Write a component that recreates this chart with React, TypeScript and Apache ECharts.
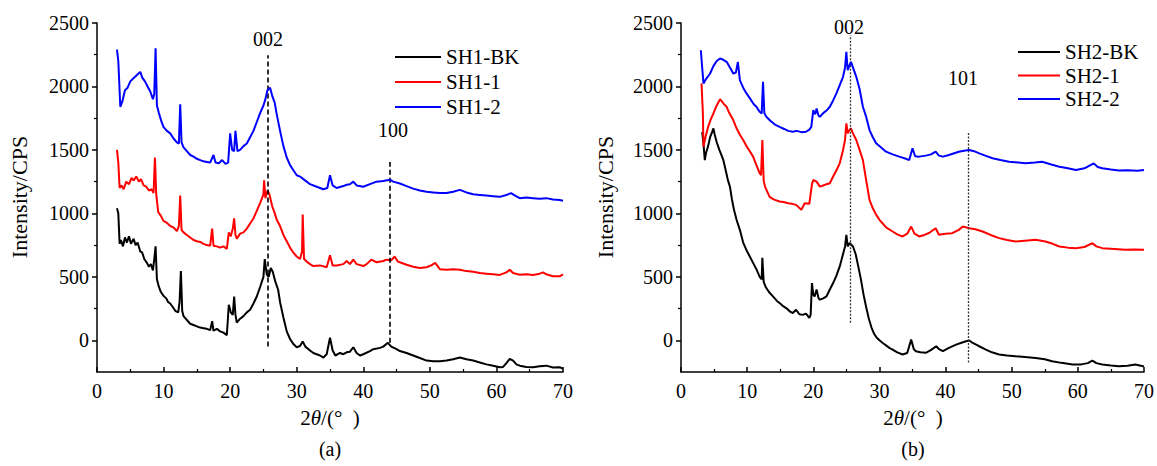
import React, { useEffect, useRef } from "react";
import * as echarts from "echarts";

const FONT = "'Liberation Serif', 'Times New Roman', serif";

const xTicks = [0, 10, 20, 30, 40, 50, 60, 70];
const yMajorTicks = [0, 500, 1000, 1500, 2000, 2500];
const yMinorTicks = [250, 750, 1250, 1750, 2250];

const namesA = ["SH1-BK", "SH1-1", "SH1-2"];
const namesB = ["SH2-BK", "SH2-1", "SH2-2"];
const colors = ["#000000", "#ff0000", "#0000ff"];

const sh1BK: number[][] = [
  [3.0, 1040], [3.2, 1000], [3.4, 760], [3.6, 790], [3.9, 740], [4.2, 810], [4.5, 770], [4.8, 820], [5.1, 760], [5.5, 800],
  [5.8, 750], [6.1, 770], [6.5, 700], [6.8, 690], [7.1, 640], [7.5, 610], [7.8, 580], [8.1, 600], [8.4, 550], [8.6, 640],
  [8.8, 740], [9.0, 480], [9.3, 420], [9.6, 380], [10.0, 350], [10.4, 330], [10.7, 300], [11.0, 290], [11.4, 260], [11.8, 230],
  [12.2, 220], [12.4, 300], [12.6, 545], [12.8, 230], [13.0, 190], [13.5, 160], [14.0, 130], [14.5, 120], [15.0, 110], [15.5, 100],
  [16.0, 95], [16.5, 90], [17.0, 80], [17.3, 150], [17.5, 75], [18.0, 90], [18.5, 70], [19.0, 60], [19.5, 40], [19.8, 280],
  [20.1, 220], [20.4, 200], [20.6, 345], [20.8, 200], [21.0, 140], [21.5, 170], [22.0, 190], [22.5, 220], [23.0, 240], [23.5, 290],
  [24.0, 345], [24.5, 420], [25.0, 500], [25.2, 640], [25.5, 520], [25.8, 500], [26.1, 570], [26.4, 540], [26.8, 460], [27.2, 400],
  [27.5, 300], [28.0, 180], [28.5, 70], [29.0, 10], [29.5, -30], [30.0, -55], [30.5, -45], [30.9, -10], [31.3, -50], [32.0, -80],
  [32.5, -100], [33.0, -110], [33.5, -120], [34.0, -136], [34.5, -110], [35.0, 20], [35.4, -80], [35.8, -120], [36.5, -100], [37.0, -110],
  [37.5, -95], [38.0, -90], [38.5, -55], [39.0, -100], [39.5, -120], [40.0, -110], [41.0, -85], [41.5, -70], [42.5, -60], [43.0, -50],
  [43.7, -20], [44.2, -50], [45.0, -70], [45.5, -85], [46.5, -100], [47.5, -120], [48.5, -140], [49.5, -160], [50.5, -165], [51.5, -165],
  [52.5, -160], [53.5, -150], [54.5, -136], [55.5, -150], [56.5, -160], [57.5, -175], [58.5, -190], [59.5, -200], [60.5, -212], [61.0, -210],
  [61.5, -180], [62.0, -146], [62.5, -160], [63.0, -190], [63.5, -200], [64.5, -210], [65.5, -212], [66.5, -205], [67.5, -200], [68.5, -215],
  [69.5, -212], [70.0, -225],
];

const sh1One: number[][] = [
  [3.0, 1500], [3.2, 1400], [3.4, 1200], [3.7, 1220], [4.0, 1190], [4.4, 1250], [4.8, 1230], [5.2, 1280], [5.5, 1260], [5.9, 1290],
  [6.3, 1250], [6.6, 1270], [7.0, 1220], [7.4, 1210], [7.8, 1180], [8.2, 1190], [8.5, 1160], [8.7, 1440], [8.9, 1150], [9.2, 1010],
  [9.6, 980], [10.0, 940], [10.5, 925], [11.0, 900], [11.5, 890], [12.0, 860], [12.3, 900], [12.5, 1140], [12.7, 870], [13.0, 850],
  [13.5, 830], [14.0, 810], [14.5, 790], [15.0, 780], [15.5, 775], [16.0, 760], [16.5, 750], [17.0, 745], [17.3, 880], [17.5, 745],
  [18.0, 740], [18.5, 730], [19.0, 740], [19.5, 720], [19.8, 850], [20.1, 820], [20.4, 880], [20.6, 960], [20.8, 830], [21.0, 800],
  [21.5, 840], [22.0, 850], [22.5, 880], [23.0, 920], [23.5, 960], [24.0, 1020], [24.5, 1080], [25.0, 1150], [25.1, 1260], [25.3, 1120],
  [25.6, 1180], [25.9, 1150], [26.3, 1060], [26.7, 1000], [27.0, 950], [27.5, 900], [28.0, 830], [28.5, 780], [29.0, 730], [29.5, 690],
  [30.0, 660], [30.5, 640], [30.8, 700], [30.9, 990], [31.1, 640], [31.5, 620], [32.0, 600], [32.5, 585], [33.5, 590], [34.5, 575],
  [35.0, 670], [35.4, 590], [36.0, 590], [37.0, 600], [37.5, 625], [38.0, 600], [38.5, 635], [39.0, 600], [40.0, 585], [40.5, 600],
  [41.2, 635], [42.0, 615], [43.0, 625], [43.5, 635], [44.2, 630], [44.7, 660], [45.2, 620], [46.0, 605], [46.5, 595], [47.5, 580],
  [48.5, 570], [49.5, 575], [50.2, 590], [50.8, 610], [51.5, 560], [52.5, 555], [53.5, 560], [54.5, 556], [55.5, 545], [56.5, 540],
  [57.5, 530], [58.5, 525], [59.5, 520], [60.5, 515], [61.5, 535], [62.0, 556], [62.5, 530], [63.5, 517], [64.5, 520], [65.5, 515],
  [66.5, 525], [67.0, 535], [67.5, 520], [68.5, 505], [69.5, 504], [70.0, 520],
];

const sh1Two: number[][] = [
  [3.0, 2290], [3.2, 2200], [3.5, 1840], [3.8, 1880], [4.2, 1970], [4.6, 1990], [5.0, 2040], [5.4, 2060], [5.8, 2080], [6.2, 2100],
  [6.5, 2115], [6.8, 2070], [7.2, 2040], [7.6, 2000], [8.0, 1960], [8.4, 1900], [8.6, 1940], [8.8, 2300], [9.0, 1850], [9.3, 1790],
  [9.7, 1720], [10.0, 1680], [10.5, 1650], [11.0, 1630], [11.5, 1590], [12.0, 1560], [12.3, 1550], [12.5, 1860], [12.7, 1560], [13.0, 1520],
  [13.5, 1490], [14.0, 1460], [14.5, 1447], [15.0, 1430], [15.5, 1420], [16.0, 1410], [16.5, 1405], [17.0, 1400], [17.5, 1460], [17.8, 1400],
  [18.3, 1395], [18.8, 1420], [19.3, 1390], [19.7, 1400], [20.0, 1630], [20.3, 1500], [20.6, 1490], [20.8, 1650], [21.1, 1490], [21.5, 1500],
  [22.0, 1530], [22.5, 1550], [23.0, 1600], [23.5, 1650], [24.0, 1720], [24.5, 1790], [25.0, 1850], [25.3, 1900], [25.6, 1970], [26.0, 1990],
  [26.3, 1930], [26.7, 1870], [27.0, 1780], [27.5, 1650], [28.0, 1530], [28.5, 1440], [29.0, 1380], [29.5, 1340], [30.0, 1300], [30.5, 1290],
  [31.0, 1270], [31.5, 1250], [32.0, 1230], [33.0, 1210], [34.0, 1190], [34.6, 1200], [35.0, 1300], [35.4, 1220], [36.0, 1200], [37.0, 1215],
  [37.5, 1225], [38.0, 1230], [38.5, 1250], [39.0, 1220], [40.0, 1210], [41.0, 1230], [42.0, 1250], [43.0, 1255], [44.0, 1265], [44.5, 1250],
  [45.5, 1235], [46.5, 1215], [47.5, 1195], [48.5, 1180], [49.5, 1170], [50.5, 1165], [51.5, 1160], [52.5, 1160], [53.5, 1170], [54.5, 1185],
  [55.5, 1165], [56.5, 1150], [57.5, 1145], [58.5, 1140], [59.5, 1135], [60.5, 1130], [61.5, 1145], [62.2, 1160], [62.8, 1140], [63.5, 1120],
  [64.5, 1125], [65.5, 1120], [66.5, 1115], [67.5, 1120], [68.5, 1110], [69.5, 1105], [70.0, 1100],
];

const sh2BK: number[][] = [
  [3.2, 1640], [3.4, 1550], [3.6, 1420], [3.8, 1480], [4.1, 1530], [4.4, 1600], [4.7, 1640], [4.9, 1670], [5.1, 1620], [5.4, 1560],
  [5.8, 1500], [6.1, 1460], [6.4, 1420], [6.8, 1330], [7.1, 1260], [7.4, 1210], [7.7, 1110], [8.0, 1030], [8.4, 950], [8.9, 870],
  [9.4, 770], [9.9, 710], [10.4, 660], [10.9, 610], [11.4, 560], [11.9, 500], [12.2, 480], [12.3, 650], [12.5, 460], [12.8, 420],
  [13.3, 380], [13.9, 346], [14.5, 310], [15.0, 290], [15.5, 267], [16.0, 250], [16.5, 225], [16.9, 215], [17.4, 240], [17.9, 205],
  [18.4, 200], [18.9, 210], [19.4, 176], [19.6, 200], [19.8, 450], [20.0, 360], [20.2, 346], [20.5, 400], [20.8, 330], [21.0, 320],
  [21.5, 330], [22.0, 346], [22.5, 400], [23.0, 451], [23.5, 510], [24.0, 582], [24.5, 680], [24.8, 739], [25.0, 830], [25.2, 740],
  [25.5, 766], [26.0, 739], [26.4, 680], [26.8, 582], [27.2, 480], [27.6, 360], [28.0, 260], [28.4, 170], [28.8, 100], [29.2, 50],
  [29.6, 20], [30.0, 0], [30.5, -21], [31.0, -40], [31.5, -60], [32.0, -73], [32.7, -95], [33.5, -112], [34.2, -100], [34.8, 5],
  [35.2, -70], [35.5, -86], [36.2, -95], [37.0, -99], [37.7, -80], [38.6, -47], [39.0, -70], [39.6, -86], [40.5, -60], [41.6, -34],
  [42.4, -20], [43.1, -8], [43.6, -2], [44.1, -21], [45.0, -45], [46.1, -73], [47.0, -95], [48.1, -112], [49.3, -120], [50.6, -126],
  [52.0, -132], [53.6, -139], [55.0, -150], [56.1, -165], [57.5, -178], [59.2, -191], [60.5, -190], [61.5, -180], [62.2, -160], [62.8, -180],
  [63.7, -191], [65.0, -198], [66.2, -204], [67.5, -200], [68.7, -191], [69.5, -200], [70.0, -207],
];

const sh2One: number[][] = [
  [3.1, 2024], [3.3, 1800], [3.4, 1525], [3.7, 1600], [4.1, 1682], [4.5, 1740], [4.9, 1787], [5.3, 1840], [5.6, 1870], [5.9, 1900],
  [6.2, 1880], [6.5, 1860], [6.9, 1840], [7.3, 1790], [7.9, 1735], [8.4, 1670], [8.9, 1620], [9.4, 1578], [9.9, 1530], [10.4, 1490],
  [10.9, 1447], [11.4, 1380], [11.9, 1316], [12.1, 1300], [12.3, 1578], [12.5, 1260], [12.7, 1211], [13.4, 1130], [14.0, 1110], [14.9, 1093],
  [15.5, 1090], [16.2, 1080], [16.8, 1075], [17.4, 1067], [18.2, 1028], [18.7, 1080], [19.4, 1075], [19.8, 1230], [20.0, 1263], [20.5, 1250],
  [21.0, 1211], [21.5, 1220], [22.0, 1230], [22.5, 1237], [23.0, 1290], [23.5, 1340], [24.0, 1394], [24.5, 1500], [24.8, 1580], [25.0, 1709],
  [25.2, 1630], [25.5, 1660], [25.7, 1670], [26.0, 1630], [26.5, 1578], [27.0, 1500], [27.5, 1420], [28.0, 1260], [28.5, 1106], [29.0, 1040],
  [29.5, 990], [30.0, 949], [30.5, 920], [31.0, 890], [32.0, 857], [32.7, 835], [33.5, 818], [34.2, 840], [34.8, 896], [35.3, 840],
  [36.0, 818], [36.8, 830], [37.5, 845], [38.5, 883], [39.0, 831], [40.0, 840], [41.0, 844], [42.0, 870], [42.6, 896], [43.6, 883],
  [44.5, 875], [45.6, 857], [46.8, 830], [48.1, 805], [49.3, 790], [50.6, 778], [52.0, 785], [53.6, 792], [55.1, 778], [56.2, 760],
  [57.2, 739], [58.5, 730], [59.7, 726], [61.0, 735], [62.2, 765], [62.8, 740], [63.7, 726], [65.5, 720], [67.2, 713], [68.5, 715],
  [70.0, 713],
];

const sh2Two: number[][] = [
  [3.0, 2285], [3.2, 2150], [3.4, 2024], [3.8, 2060], [4.4, 2102], [4.9, 2160], [5.4, 2200], [5.9, 2220], [6.4, 2210], [6.9, 2194],
  [7.4, 2150], [7.9, 2102], [8.3, 2110], [8.6, 2194], [8.9, 2050], [9.4, 1990], [9.9, 1945], [10.5, 1900], [11.0, 1860], [11.4, 1840],
  [11.9, 1800], [12.2, 1787], [12.4, 2037], [12.6, 1790], [12.9, 1761], [13.5, 1730], [14.2, 1700], [14.9, 1682], [15.6, 1665], [16.2, 1650],
  [16.9, 1643], [17.5, 1650], [18.2, 1640], [18.9, 1643], [19.4, 1660], [19.7, 1682], [20.0, 1814], [20.3, 1780], [20.5, 1827], [20.8, 1770],
  [21.0, 1761], [21.5, 1790], [22.0, 1810], [22.5, 1840], [23.0, 1890], [23.5, 1945], [24.0, 2010], [24.5, 2076], [24.8, 2150], [25.0, 2272],
  [25.2, 2128], [25.5, 2170], [25.7, 2194], [26.0, 2150], [26.5, 2076], [27.0, 1980], [27.5, 1840], [28.0, 1760], [28.5, 1656], [29.0, 1600],
  [29.5, 1552], [30.0, 1530], [31.0, 1486], [32.0, 1465], [33.0, 1447], [34.0, 1430], [34.5, 1420], [35.0, 1512], [35.4, 1450], [36.0, 1447],
  [37.0, 1455], [37.8, 1465], [38.5, 1486], [39.0, 1455], [39.6, 1447], [40.5, 1460], [42.0, 1486], [43.0, 1495], [43.6, 1499], [44.3, 1490],
  [45.1, 1473], [46.0, 1455], [47.1, 1434], [48.3, 1420], [49.6, 1407], [51.0, 1400], [52.1, 1394], [53.5, 1400], [54.6, 1407], [56.0, 1385],
  [57.2, 1368], [58.5, 1355], [59.7, 1342], [61.0, 1355], [62.4, 1394], [63.0, 1365], [63.7, 1355], [65.0, 1345], [66.2, 1337], [67.5, 1340],
  [69.0, 1335], [70.0, 1342],
];

// reference lines: [x, yStart, yEnd]
const refLinesA = [[25.7, -50, 2246], [44.0, -20, 1405]];
const refLinesB = [[25.6, 139, 2403], [43.4, -175, 1641]];

const axisStyle = { color: "#000", width: 1.5 };

function makeX(gridIndex: number) {
  return {
    type: "value",
    gridIndex,
    min: 0,
    max: 70,
    interval: 10,
    axisLine: { show: true, onZero: false, lineStyle: axisStyle },
    axisTick: { show: true, inside: true, length: 5, lineStyle: axisStyle },
    minorTick: { show: true, splitNumber: 2, length: 3, lineStyle: { color: "#000", width: 1.2 } },
    axisLabel: {
      color: "#000",
      fontFamily: FONT,
      fontSize: 20,
      margin: 9,
      customValues: xTicks,
    },
    splitLine: { show: false },
  };
}

function makeY(gridIndex: number) {
  return [
    {
      type: "value",
      gridIndex,
      min: -250,
      max: 2500,
      interval: 250,
      axisLine: { show: true, onZero: false, lineStyle: axisStyle },
      axisTick: { show: true, inside: false, length: 5, lineStyle: axisStyle, customValues: yMajorTicks },
      axisLabel: {
        color: "#000",
        fontFamily: FONT,
        fontSize: 20,
        margin: 8,
        customValues: yMajorTicks,
        formatter: (v: number) => (v % 500 === 0 ? String(v) : ""),
      },
      splitLine: { show: false },
    },
    {
      type: "value",
      gridIndex,
      min: -250,
      max: 2500,
      interval: 250,
      position: "left",
      axisLine: { show: false },
      axisTick: { show: true, inside: false, length: 3, lineStyle: { color: "#000", width: 1.2 }, customValues: yMinorTicks },
      axisLabel: { show: false },
      splitLine: { show: false },
    },
  ];
}

function refMarkLine(lines: number[][], dashed: boolean) {
  return {
    silent: true,
    symbol: ["none", "none"],
    label: { show: false },
    lineStyle: dashed
      ? { type: [5, 3], color: "#000", width: 1.6 }
      : { type: [2, 1.5], color: "#333", width: 1.3 },
    data: lines.map((l) => [{ coord: [l[0], l[1]] }, { coord: [l[0], l[2]] }]),
  };
}

function makeSeries(names: string[], data: number[][][], xAxisIndex: number, yAxisIndex: number, lines: number[][], dashed: boolean) {
  return names.map((name, i) => ({
    type: "line",
    name,
    xAxisIndex,
    yAxisIndex,
    data: data[i],
    showSymbol: false,
    symbol: "none",
    color: colors[i],
    lineStyle: { color: colors[i], width: 2 },
    z: 3 + i,
    markLine: i === 0 ? refMarkLine(lines, dashed) : undefined,
  }));
}

function txt(text: string, x: number, y: number, size: number, extra: any = {}) {
  return {
    type: "text",
    x,
    y,
    ...extra,
    style: {
      text,
      fontFamily: FONT,
      fontSize: size,
      fill: "#000",
      align: "center",
      verticalAlign: "middle",
    },
  };
}

export default function App() {
  const ref = useRef<HTMLDivElement>(null);
  useEffect(() => {
    if (!ref.current) return;
    const chart = echarts.init(ref.current, null, { renderer: "svg" });
    const xNameStyle = {
      text: "2{i|θ}/(°  )",
      rich: { i: { fontStyle: "italic", fontFamily: FONT, fontSize: 21 } },
      fontFamily: FONT,
      fontSize: 21,
      fill: "#000",
      align: "center",
      verticalAlign: "middle",
    };
    const legendText = { color: "#000", fontFamily: FONT, fontSize: 21, lineHeight: 22 };
    const option: any = {
      animation: false,
      backgroundColor: "#fff",
      grid: [
        { left: 97, right: 594, top: 23, bottom: 94 },
        { left: 681, right: 12, top: 23, bottom: 94 },
      ],
      xAxis: [makeX(0), makeX(1)],
      yAxis: [...makeY(0), ...makeY(1)],
      legend: [
        {
          data: namesA,
          orient: "vertical",
          left: 390,
          top: 41,
          itemWidth: 46,
          itemHeight: 2,
          itemGap: 3,
          icon: "rect",
          textStyle: legendText,
        },
        {
          data: namesB,
          orient: "vertical",
          left: 1013,
          top: 36,
          itemWidth: 42,
          itemHeight: 2,
          itemGap: 1.5,
          icon: "rect",
          textStyle: legendText,
        },
      ],
      series: [
        ...makeSeries(namesA, [sh1BK, sh1One, sh1Two], 0, 0, refLinesA, true),
        ...makeSeries(namesB, [sh2BK, sh2One, sh2Two], 1, 2, refLinesB, false),
      ],
      graphic: [
        txt("002", 268, 39, 20),
        txt("100", 393, 130, 20),
        txt("002", 849, 27, 20),
        txt("101", 963, 78, 20),
        txt("Intensity/CPS", 19, 197, 22, { rotation: Math.PI / 2 }),
        txt("Intensity/CPS", 605, 197, 22, { rotation: Math.PI / 2 }),
        { type: "text", x: 330, y: 418, style: xNameStyle },
        { type: "text", x: 913, y: 418, style: xNameStyle },
        txt("(a)", 330, 449, 20),
        txt("(b)", 913, 449, 20),
      ],
    };
    chart.setOption(option);
    return () => chart.dispose();
  }, []);
  return <div ref={ref} style={{ position: "absolute", left: 0, top: 0, width: 1157, height: 466 }} />;
}
